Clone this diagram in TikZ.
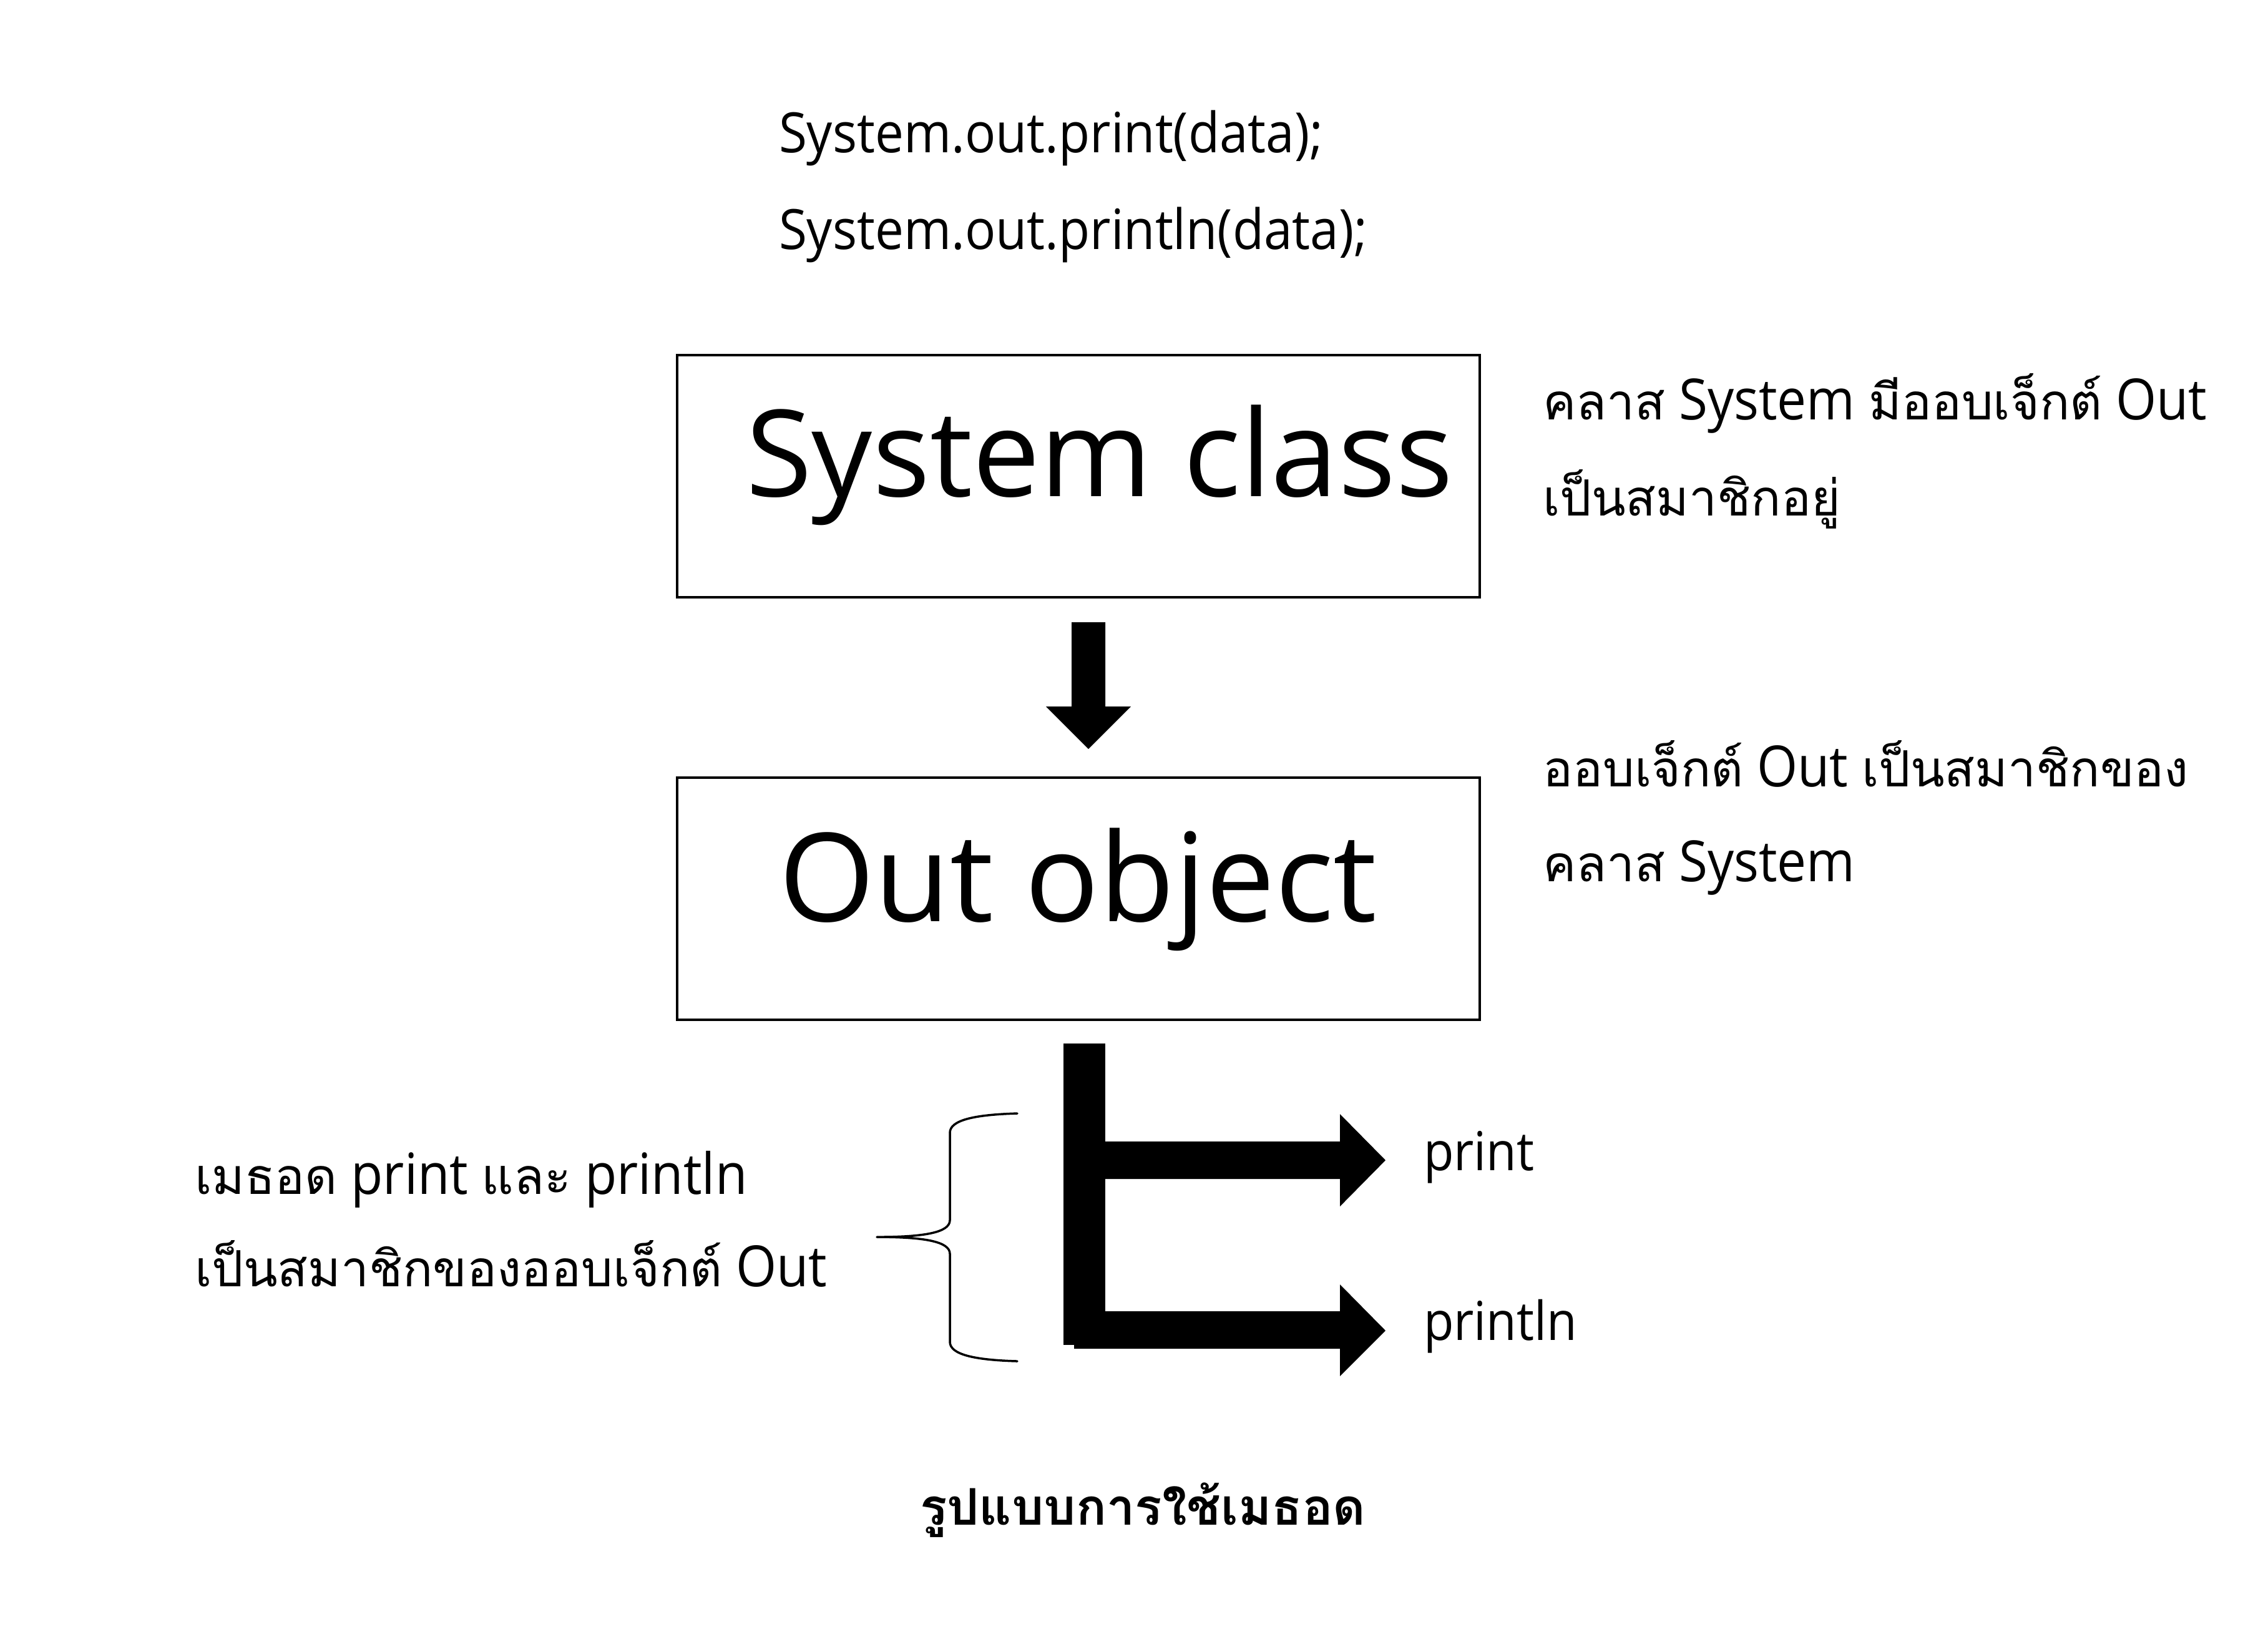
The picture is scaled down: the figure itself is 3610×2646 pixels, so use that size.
\documentclass[tikz,border=0pt]{standalone}
\usepackage{fontspec}
\setmainfont{Open Sans}
\newfontfamily\latf[FakeStretch=0.92]{Open Sans}
\newfontfamily\bigf{Open Sans}
\newfontfamily\thaif[Script=Thai]{Loma}
\newfontfamily\thaicap[Script=Thai]{Loma}
\newcommand\thx[1]{{\thaif\fontsize{8.0}{9}\selectfont #1}}
\tikzset{
  txt/.style={inner sep=0pt, outer sep=0pt, anchor=base west},
  codetxt/.style={txt, font=\latf\fontsize{8.9}{10}\selectfont},
  bigtxt/.style={txt, font=\bigf\fontsize{19.3}{22}\selectfont},
  notetxt/.style={txt, font=\latf\fontsize{9.1}{10}\selectfont},
  mtxt/.style={txt, font=\latf\fontsize{8.6}{10}\selectfont},
  frame/.style={draw=black, line width=0.32pt, inner sep=0pt, outer sep=0pt},
  blk/.style={fill=black, draw=none},
  brace/.style={draw=black, line width=0.35pt, line cap=round, line join=round},
}
\begin{document}
\begin{tikzpicture}[x=0.1pt,y=-0.1pt]
\useasboundingbox (0,0) rectangle (3610,2646);
\fill[white] (0,0) rectangle (3610,2646);
% code lines
\node[codetxt] (c1) at (1248,244) {System.out.print(data);};
\node[codetxt] (c2) at (1248,399) {System.out.println(data);};
% boxes
\node[frame, minimum width=128.6pt, minimum height=38.8pt] (sys) at (1728,763) {};
\node[frame, minimum width=128.6pt, minimum height=38.8pt] (out) at (1728,1440) {};
\node[bigtxt] (syst) at (1195,795) {System class};
\node[bigtxt, font=\bigf\fontsize{19.7}{22}\selectfont] (outt) at (1248,1476) {Out object};
% down block arrow
\fill[blk] (1717,997) -- (1771,997) -- (1771,1132) -- (1812,1132) -- (1744,1200)
  -- (1676,1132) -- (1717,1132) -- cycle;
% L-shaped branching arrows
\fill[blk] (1704,1672) rectangle (1771,2155);
\fill[blk] (1771,1829) -- (2147,1829) -- (2147,1785) -- (2220,1859) -- (2147,1933)
  -- (2147,1889) -- (1771,1889) -- cycle;
\fill[blk] (1721,2101) -- (2147,2101) -- (2147,2058) -- (2220,2132) -- (2147,2205)
  -- (2147,2161) -- (1721,2161) -- cycle;
\node[mtxt] (pr) at (2281,1875) {print};
\node[mtxt] (prl) at (2281,2147) {println};
% brace
\draw[brace] (1630,1784) .. controls (1560,1786) and (1522,1795) .. (1522,1815)
  -- (1522,1955) .. controls (1522,1975) and (1480,1982) .. (1405,1982)
  .. controls (1480,1982) and (1522,1989) .. (1522,2009)
  -- (1522,2150) .. controls (1522,2170) and (1560,2179) .. (1630,2181);
% right notes
\node[notetxt] (n1) at (2472,672) {\thx{คลาส} System \thx{มีออบเจ็กต์} Out};
\node[notetxt] (n2) at (2472,826) {\thx{เป็นสมาชิกอยู่}};
\node[notetxt] (n3) at (2472,1260) {\thx{ออบเจ็กต์} Out \thx{เป็นสมาชิกของ}};
\node[notetxt] (n4) at (2472,1412) {\thx{คลาส} System};
% left notes
\node[notetxt] (l1) at (312,1913) {\thx{เมธอด} print \thx{และ} println};
\node[notetxt] (l2) at (312,2061) {\thx{เป็นสมาชิกของออบเจ็กต์} Out};
% caption
\node[txt, font=\thaicap\bfseries\fontsize{8.1}{10}\selectfont] (cap) at (1474,2443) {รูปแบบการใช้เมธอด};
\end{tikzpicture}
\end{document}
